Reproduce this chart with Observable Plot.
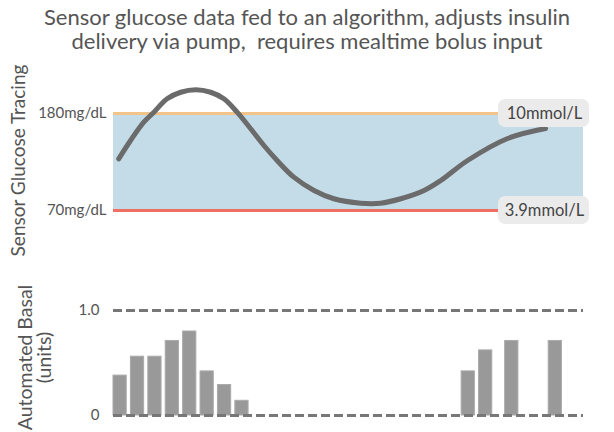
<!DOCTYPE html>
<html>
<head>
<meta charset="utf-8">
<script src="https://cdn.jsdelivr.net/npm/d3@7"></script>
<script src="https://cdn.jsdelivr.net/npm/@observablehq/plot@0.6"></script>
<style>
  body { margin: 0; background: #fff; font-family: Lato, "Noto Sans", sans-serif; }
  #title { width: 614px; height: 62px; box-sizing: border-box; padding-top: 5px; text-align: center;
           font-size: 22px; line-height: 24px; color: #555; }
  #chart svg { display: block; overflow: visible; }
</style>
</head>
<body>
<div id="title">Sensor glucose data fed to an algorithm, adjusts insulin<br>delivery via pump,&nbsp; requires mealtime bolus input</div>
<div id="chart"></div>
<script>
// Glucose trace: time (minutes), sensor glucose (mg/dL)
const traceTime    = [1.5, 4.9, 8.7, 11.6, 15.4, 19.3, 23.6, 27.9, 31.7, 35.5, 39.4, 43.2, 47.0, 51.8, 57.6, 63.3, 71.0, 76.7, 82.5, 89.2, 94.0, 101.7, 113.2, 124.1];
const traceGlucose = [128.6, 149.4, 170.1, 181.5, 196.7, 204.1, 206.9, 204.1, 196.7, 181.5, 162.7, 143.7, 126.7, 107.8, 92.7, 83.3, 78.3, 78.3, 83.3, 92.7, 104.0, 126.7, 151.7, 163.0];

// Target range
const targetLow = 70, targetHigh = 180;
const targetTicks = [70, 180];
const targetTickLabels = ["70mg/dL", "180mg/dL"];
const mmolLabels = ["3.9mmol/L", "10mmol/L"];
const timeDomain = [0, 135];

// Automated basal deliveries: start time (minutes), width (minutes), units
const basalStart = [0, 5, 10, 15, 20, 25, 30, 35, 100, 105, 112.5, 125];
const basalUnits = [0.38, 0.56, 0.56, 0.71, 0.80, 0.42, 0.29, 0.14, 0.42, 0.62, 0.71, 0.71];
const basalWidth = 3.8;
const basalTicks = [0, 1];
const basalTickLabels = ["0", "1.0"];

const trace = traceTime.map((t, i) => ({t, g: traceGlucose[i]}));
const targets = targetTicks.map((v, i) => ({v, label: mmolLabels[i]}));
const basal = basalStart.map((s, i) => ({s, e: s + basalWidth, u: basalUnits[i]}));

const font = "Lato, 'Noto Sans', sans-serif";

const glucosePlot = Plot.plot({
  width: 614, height: 200,
  marginLeft: 113, marginRight: 31, marginTop: 0, marginBottom: 4,
  style: {fontFamily: font, fontSize: "15px", color: "#555", background: "transparent", overflow: "visible"},
  x: {domain: timeDomain, axis: null},
  y: {domain: [targetLow, targetHigh], range: [148, 51], axis: null},
  marks: [
    Plot.rect([targetLow], {x1: () => timeDomain[0], x2: () => timeDomain[1], y1: targetLow, y2: targetHigh, fill: "#c4dce8"}),
    Plot.ruleY([targetHigh], {x1: timeDomain[0], x2: timeDomain[1], stroke: "#f2c48a", strokeWidth: 3}),
    Plot.ruleY([targetLow], {x1: timeDomain[0], x2: timeDomain[1], stroke: "#f07064", strokeWidth: 3}),
    Plot.line(trace, {x: "t", y: "g", curve: "catmull-rom", stroke: "#6b6b6b", strokeWidth: 5}),
    Plot.rect(targets, {x1: () => timeDomain[1], x2: () => timeDomain[1], y1: "v", y2: "v",
      insetLeft: -85, insetRight: -6, insetTop: -14, insetBottom: -14, rx: 7, fill: "#ebebeb"}),
    Plot.text(targets, {x: () => timeDomain[1], y: "v", text: "label", dx: -39, fontSize: 16.5, fill: "#444"}),
    Plot.axisY({ticks: targetTicks, tickFormat: d => targetTickLabels[targetTicks.indexOf(d)], tickSize: 0, tickPadding: 7, label: null, fontSize: 15}),
    Plot.text(["Sensor Glucose Tracing"], {frameAnchor: "left", textAnchor: "middle", rotate: -90, dx: -95, fontSize: 19, fill: "#555"})
  ]
});

const basalPlot = Plot.plot({
  width: 614, height: 170,
  marginLeft: 113, marginRight: 31, marginTop: 20, marginBottom: 0,
  style: {fontFamily: font, fontSize: "15px", color: "#555", background: "transparent", overflow: "visible"},
  x: {domain: timeDomain, axis: null},
  y: {domain: [0, 1], range: [153, 48], axis: null},
  marks: [
    Plot.rectY(basal, {x1: "s", x2: "e", y: "u", fill: "#999999", stroke: "#aaaaaa", strokeWidth: 1}),
    Plot.ruleY(basalTicks, {x1: timeDomain[0], x2: timeDomain[1], stroke: "#777", strokeWidth: 3, strokeDasharray: "9,4"}),
    Plot.axisY({ticks: basalTicks, tickFormat: d => basalTickLabels[basalTicks.indexOf(d)], tickSize: 0, tickPadding: 14, label: null, fontSize: 15}),
    Plot.text(["Automated Basal\n(units)"], {frameAnchor: "left", textAnchor: "middle", rotate: -90, dx: -78, fontSize: 19.5, fill: "#555", lineHeight: 0.95})
  ]
});

document.getElementById("chart").append(glucosePlot, basalPlot);
</script>
</body>
</html>
